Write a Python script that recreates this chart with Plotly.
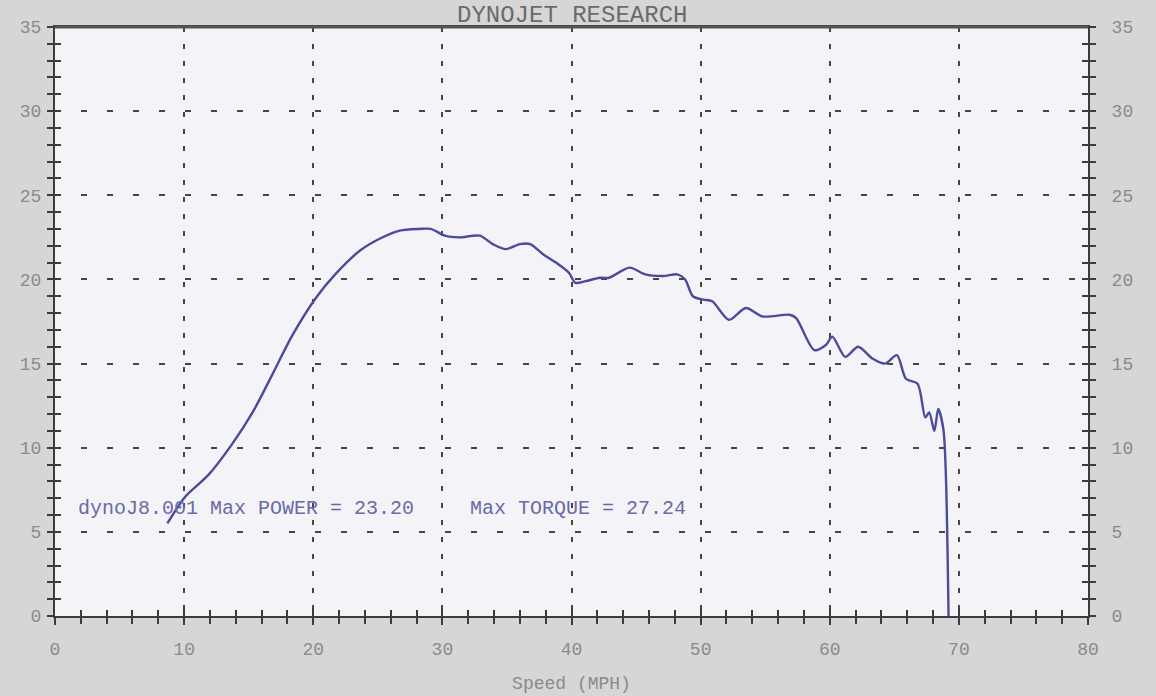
import plotly.graph_objects as go

speed = [8.7, 10.1, 11.9, 13.7, 15.3, 16.8, 18.4, 20.2, 21.7, 23.6, 25.1, 26.7, 28.2, 29.1,
         30.2, 31.3, 32.9, 33.9, 34.9, 36.0, 36.8, 37.8, 38.8, 39.8, 40.3, 41.1, 42.2, 42.9,
         44.5, 45.7, 47.1, 48.2, 48.8, 49.4, 50.2, 50.9, 52.2, 53.5, 54.8, 56.9, 57.4, 58.8,
         59.7, 60.2, 61.2, 62.2, 63.3, 64.3, 65.2, 65.9, 66.8, 67.4, 67.7, 68.1, 68.4, 68.8,
         69.0, 69.2]
power = [5.5, 7.1, 8.4, 10.2, 12.1, 14.3, 16.7, 18.9, 20.3, 21.7, 22.4, 22.9, 23.0, 23.0,
         22.6, 22.5, 22.6, 22.1, 21.8, 22.1, 22.1, 21.5, 21.0, 20.4, 19.8, 19.9, 20.1, 20.1,
         20.7, 20.3, 20.2, 20.3, 20.0, 19.0, 18.8, 18.7, 17.6, 18.3, 17.8, 17.9, 17.7, 15.8,
         16.1, 16.6, 15.4, 16.0, 15.3, 15.0, 15.5, 14.1, 13.8, 11.8, 12.1, 11.0, 12.3, 11.1,
         8.2, 0.0]

x_ticks = [0, 10, 20, 30, 40, 50, 60, 70, 80]
y_ticks = [0, 5, 10, 15, 20, 25, 30, 35]
title_text = "DYNOJET RESEARCH"
x_title = "Speed (MPH)"
note_power = "dynoJ8.001 Max POWER = 23.20"
note_torque = "Max TORQUE = 27.24"

MONO = "Liberation Mono"
AX = "#3c3c3c"
LAB = "#8a8a8a"
GRID = "#454545"
LINE = "#4b4b9c"

fig = go.Figure()
fig.add_trace(go.Scatter(x=speed, y=power, mode="lines",
                         line=dict(color=LINE, width=2.4, shape="spline", smoothing=0.8),
                         showlegend=False, hoverinfo="skip"))
# helper trace for the overlay axes (no visible marks)
fig.add_trace(go.Scatter(x=[None], y=[None], xaxis="x2", yaxis="y2", showlegend=False))

common_font = dict(family=MONO, size=18, color=LAB)

fig.update_layout(
    width=1156, height=696,
    margin=dict(l=55, r=68, t=27, b=80),
    paper_bgcolor="#d6d6d6",
    plot_bgcolor="#f4f4f8",
    xaxis=dict(range=[0, 80], tickvals=x_ticks, ticks="outside", ticklen=7, tickwidth=2,
               tickcolor=AX, showline=True, linecolor=AX, linewidth=2, mirror=True,
               showgrid=True, gridcolor=GRID, gridwidth=2, griddash="5px,12px",
               minor=dict(dtick=2, ticks="outside", ticklen=6, tickwidth=2, tickcolor=AX, showgrid=False),
               tickfont=common_font, ticklabelstandoff=8, zeroline=False, automargin=False,
               title=dict(text=x_title, font=common_font, standoff=18)),
    xaxis2=dict(range=[0, 80], overlaying="x", side="bottom", anchor="y", tickvals=x_ticks,
                ticks="inside", ticklen=7, tickwidth=2, tickcolor=AX, showticklabels=False,
                showgrid=False, zeroline=False, showline=False,
                minor=dict(dtick=2, ticks="inside", ticklen=6, tickwidth=2, tickcolor=AX)),
    yaxis=dict(range=[0, 35], tickvals=y_ticks, ticks="outside", ticklen=6, tickwidth=2,
               tickcolor=AX, showline=True, linecolor=AX, linewidth=2, mirror="allticks",
               showgrid=True, gridcolor=GRID, gridwidth=2, griddash="6px,20px",
               minor=dict(dtick=1, ticks="outside", ticklen=6, tickwidth=2, tickcolor=AX, showgrid=False),
               tickfont=common_font, ticklabelstandoff=2, zeroline=False, automargin=False),
    yaxis2=dict(range=[0, 35], overlaying="y", side="right", anchor="x", tickvals=y_ticks,
                ticks="inside", ticklen=6, tickwidth=2, tickcolor=AX, mirror="allticks",
                showline=True, linecolor=AX, linewidth=2, showgrid=False, zeroline=False,
                minor=dict(dtick=1, ticks="inside", ticklen=6, tickwidth=2, tickcolor=AX),
                tickfont=common_font, ticklabelstandoff=18, automargin=False),
    shapes=[dict(type="line", xref="paper", yref="paper", x0=0, x1=1, y0=1, y1=1,
                 line=dict(color="#555555", width=3))],
    annotations=[
        dict(text=title_text, xref="paper", yref="paper", x=0.5, y=1.0458, xanchor="center",
             yanchor="top", showarrow=False, font=dict(family=MONO, size=24, color="#6a6a6a")),
        dict(text=note_power, xref="x", yref="y", x=1.6, y=6.4, xanchor="left", yanchor="middle",
             showarrow=False, font=dict(family=MONO, size=20, color="#6a6aa6")),
        dict(text=note_torque, xref="x", yref="y", x=32.0, y=6.4, xanchor="left", yanchor="middle",
             showarrow=False, font=dict(family=MONO, size=20, color="#6a6aa6")),
    ],
)

fig.write_html("out.html", config={"displayModeBar": False},
               post_script="document.body.style.margin='0';")
